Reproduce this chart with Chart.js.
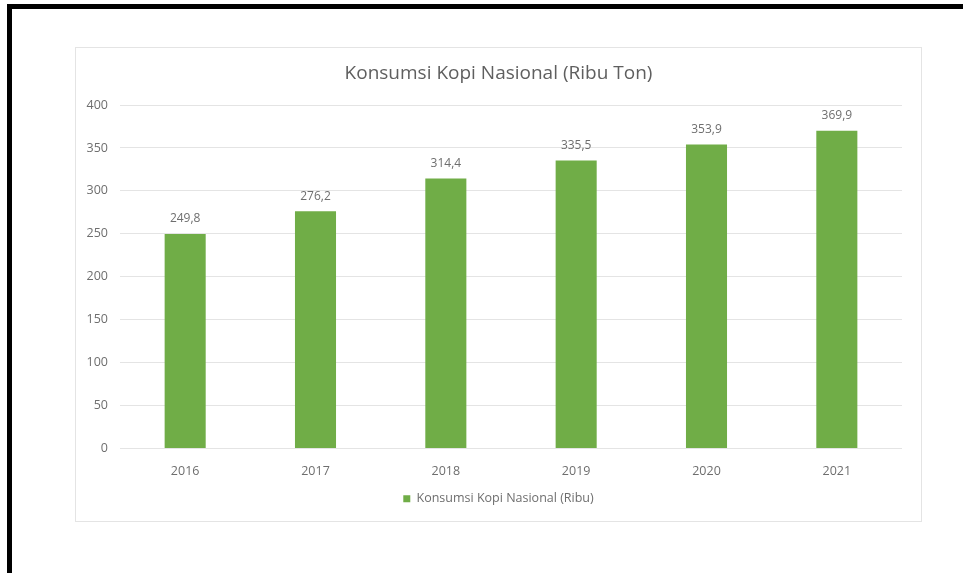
<!DOCTYPE html>
<html>
<head>
<meta charset="utf-8">
<script src="https://cdn.jsdelivr.net/npm/chart.js@4"></script>
<style>
    html, body { margin: 0; padding: 0; background: #fff; }
    body { width: 963px; height: 573px; position: relative; overflow: hidden; }
    .frame {
        position: absolute; left: 7px; top: 4px; width: 980px; height: 600px;
        border-left: 5px solid #000; border-top: 5px solid #000;
    }
    .card {
        position: absolute; left: 75px; top: 47px; width: 845px; height: 473px;
        border: 1px solid #e4e4e4;
    }
    .card canvas { display: block; }
</style>
</head>
<body>
<div class="frame"></div>
<div class="card"><canvas id="bar-chart-kopi" width="845" height="473"></canvas></div>
<script>
const years = ["2016", "2017", "2018", "2019", "2020", "2021"];
const konsumsi = [249.8, 276.2, 314.4, 335.5, 353.9, 369.9];
const yTicks = [0, 50, 100, 150, 200, 250, 300, 350, 400];
const chartTitle = "Konsumsi Kopi Nasional (Ribu Ton)";
const seriesName = "Konsumsi Kopi Nasional (Ribu)";

const textColor = "#6e6e6e";
const barColor = "#70ad47";

// value labels above each bar, Indonesian decimal comma
const barValueLabels = {
    id: "barValueLabels",
    afterDatasetsDraw(chart) {
        const ctx = chart.ctx;
        const meta = chart.getDatasetMeta(0);
        ctx.save();
        ctx.font = "12px 'Open Sans'";
        ctx.fillStyle = textColor;
        ctx.textAlign = "center";
        ctx.textBaseline = "middle";
        meta.data.forEach((bar, i) => {
            const label = konsumsi[i].toFixed(1).replace(".", ",");
            ctx.fillText(label, bar.x, bar.y - 15);
        });
        ctx.restore();
    },
};

const canvas = document.getElementById("bar-chart-kopi");
new Chart(canvas.getContext("2d"), {
    type: "bar",
    data: {
        labels: years,
        datasets: [{
            label: seriesName,
            data: konsumsi,
            backgroundColor: barColor,
            borderWidth: 0,
            categoryPercentage: 1,
            barPercentage: 0.315,
        }],
    },
    options: {
        responsive: false,
        animation: false,
        layout: { padding: { left: 0, right: 0, top: 0, bottom: 6 } },
        plugins: {
            title: {
                display: true,
                text: chartTitle,
                color: "#5f5f5f",
                font: { family: "'Open Sans'", size: 19, weight: "normal" },
                padding: { top: 14.6, bottom: 19.6 },
            },
            legend: {
                position: "bottom",
                labels: {
                    color: textColor,
                    font: { family: "'Open Sans'", size: 12.5 },
                    boxWidth: 7,
                    boxHeight: 7,
                    padding: 10,
                },
            },
            tooltip: { enabled: false },
        },
        scales: {
            x: {
                offset: true,
                grid: { display: false },
                border: { display: false },
                ticks: {
                    color: textColor,
                    font: { family: "'Open Sans'", size: 12.5 },
                    padding: 7,
                },
                afterFit(axis) { axis.height = 34; },
            },
            y: {
                min: 0,
                max: 400,
                afterBuildTicks(axis) {
                    axis.ticks = yTicks.map(v => ({ value: v }));
                },
                grid: { color: "#e4e4e4", lineWidth: 1, drawTicks: false },
                border: { display: false },
                ticks: {
                    color: textColor,
                    font: { family: "'Open Sans'", size: 12.5 },
                    padding: 12,
                },
                afterFit(axis) { axis.width = 44; },
            },
            // empty right margin so title and legend centre on the card
            yRight: {
                type: "linear",
                position: "right",
                grid: { display: false },
                border: { display: false },
                ticks: { display: false },
                afterFit(axis) { axis.width = 19; },
            },
        },
    },
    plugins: [barValueLabels],
});
</script>
</body>
</html>
